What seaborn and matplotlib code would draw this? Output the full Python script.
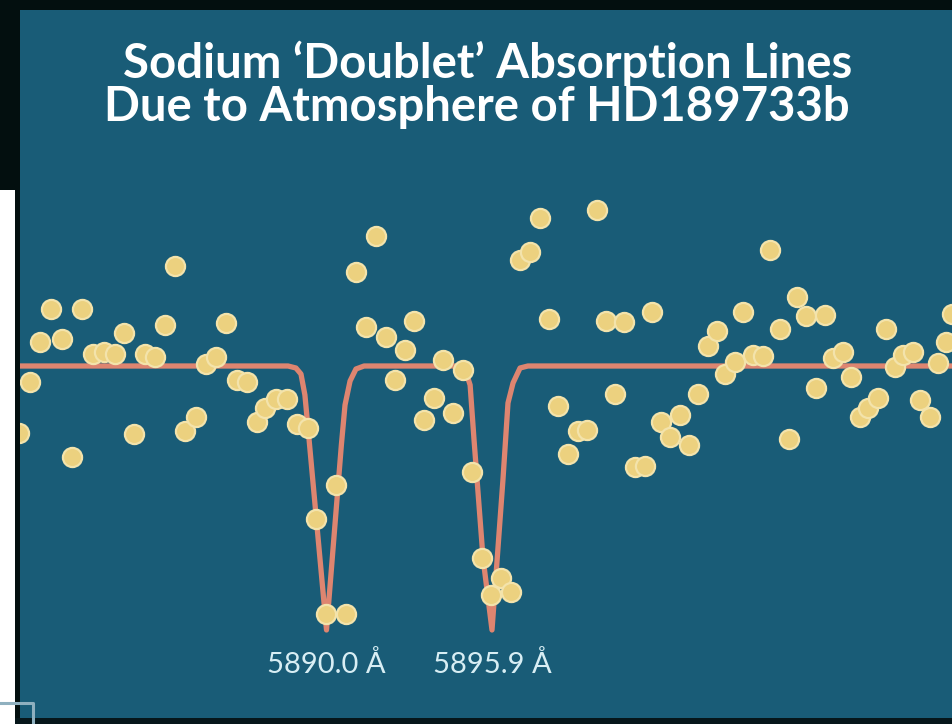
import matplotlib
matplotlib.use("Agg")
import matplotlib.pyplot as plt
from matplotlib.lines import Line2D
from matplotlib.patches import Rectangle
import pandas as pd
import seaborn as sns

# Observed spectrum: wavelength (Angstrom) and relative flux
wavelength = [
    5879.04, 5879.43, 5879.79, 5880.18, 5880.57, 5880.93, 5881.28, 5881.68, 5882.07, 5882.46,
    5882.78, 5883.14, 5883.53, 5883.89, 5884.24, 5884.60, 5884.96, 5885.35, 5885.70, 5886.06,
    5886.42, 5886.81, 5887.17, 5887.52, 5887.81, 5888.20, 5888.59, 5888.95, 5889.34, 5889.63,
    5889.98, 5890.34, 5890.70, 5891.05, 5891.41, 5891.76, 5892.12, 5892.44, 5892.80, 5893.12,
    5893.48, 5893.83, 5894.15, 5894.51, 5894.87, 5895.19, 5895.54, 5895.86, 5896.22, 5896.58,
    5896.90, 5897.26, 5897.61, 5897.93, 5898.25, 5898.61, 5898.97, 5899.29, 5899.64, 5899.96,
    5900.29, 5900.61, 5901.00, 5901.35, 5901.60, 5901.93, 5902.25, 5902.60, 5902.92, 5903.24,
    5903.60, 5903.92, 5904.21, 5904.56, 5904.85, 5905.21, 5905.56, 5905.81, 5906.17, 5906.49,
    5906.77, 5907.09, 5907.45, 5907.77, 5908.06, 5908.41, 5908.70, 5909.02, 5909.31, 5909.66,
    5909.95, 5910.27, 5910.55, 5910.91, 5911.16, 5911.52, 5911.80, 5912.09, 5912.30,
]
flux = [
    0.933, 0.984, 1.024, 1.057, 1.027, 0.909, 1.057, 1.012, 1.014, 1.012,
    1.033, 0.932, 1.012, 1.009, 1.041, 1.100, 0.935, 0.949, 1.002, 1.009,
    1.043, 0.986, 0.984, 0.944, 0.958, 0.967, 0.967, 0.942, 0.938, 0.847,
    0.752, 0.881, 0.752, 1.094, 1.039, 1.130, 1.029, 0.986, 1.016, 1.045,
    0.946, 0.968, 1.006, 0.953, 0.996, 0.894, 0.808, 0.771, 0.788, 0.774,
    1.106, 1.114, 1.148, 1.047, 0.960, 0.912, 0.935, 0.936, 1.156, 1.045,
    0.972, 1.044, 0.899, 0.900, 1.054, 0.944, 0.929, 0.951, 0.921, 0.972,
    1.020, 1.035, 0.992, 1.004, 1.054, 1.011, 1.010, 1.116, 1.037, 0.927,
    1.069, 1.050, 0.978, 1.051, 1.008, 1.014, 0.989, 0.949, 0.958, 0.968,
    1.037, 0.999, 1.011, 1.014, 0.966, 0.949, 1.003, 1.024, 1.052,
]

# Model absorption profile (vertices of the fitted curve)
model_wavelength = [
    5878.50, 5888.63, 5888.91, 5889.09, 5889.23, 5889.38, 5890.00,
    5890.53, 5890.66, 5890.84, 5891.05, 5891.34,
    5894.69, 5894.97, 5895.12, 5895.26, 5895.58, 5895.90,
    5896.29, 5896.47, 5896.65, 5896.90, 5897.18, 5913.00,
]
model_flux = [
    1.000, 1.000, 0.998, 0.992, 0.971, 0.926, 0.736,
    0.921, 0.961, 0.985, 0.997, 1.000,
    1.000, 0.994, 0.981, 0.926, 0.808, 0.736,
    0.886, 0.963, 0.983, 0.998, 1.000, 1.000,
]

line_centers = [5890.0, 5895.9]
line_labels = ["5890.0 Å", "5895.9 Å"]
title_lines = ["Sodium \u2018Doublet\u2019 Absorption Lines",
               "Due to Atmosphere of HD189733b"]

TEAL = "#195c77"
DOT = "#ecd17f"
DOT_EDGE = "#f3e3ab"
CURVE = "#de8570"
LABEL = "#d8eef4"
FONT = ["Lato", "DejaVu Sans"]

W, H = 953, 724
fig = plt.figure(figsize=(W / 100, H / 100), dpi=100, facecolor="white")

# plotting panel
ax = fig.add_axes([20 / W, 6 / H, (W - 20) / W, (718 - 6) / H])
ax.set_facecolor(TEAL)
ax.set_xlim(5879.073, 5912.335)
ax.set_ylim(0.648, 1.360)
ax.set_axis_off()
ax.add_patch(Rectangle((0, 0), 1, 1, transform=ax.transAxes,
                       facecolor=TEAL, edgecolor="none", zorder=0))

model = pd.DataFrame({"wavelength": model_wavelength, "flux": model_flux})
obs = pd.DataFrame({"wavelength": wavelength, "flux": flux})

sns.lineplot(data=model, x="wavelength", y="flux", ax=ax, color=CURVE,
             linewidth=3.8, sort=False, zorder=2,
             solid_joinstyle="round", solid_capstyle="round")
sns.scatterplot(data=obs, x="wavelength", y="flux", ax=ax, color=DOT,
                s=190, edgecolor=DOT_EDGE, linewidth=1.6, zorder=3)
ax.set_axis_off()

for xc, lab in zip(line_centers, line_labels):
    ax.text(xc, 0.693, lab, ha="center", va="baseline", color=LABEL,
            fontsize=21, family=FONT)

# title, two lines
fig.text(488 / W, 1 - 78 / H, title_lines[0], ha="center", va="baseline",
         color="white", fontsize=34, fontweight="bold", family=FONT)
fig.text(477 / W, 1 - 121 / H, title_lines[1], ha="center", va="baseline",
         color="white", fontsize=34, fontweight="bold", family=FONT)

# dark frame around the panel
px = fig.transFigure
def box(x0, y0, w, h, color="black"):
    fig.add_artist(Rectangle((x0 / W, y0 / H), w / W, h / H, transform=px,
                             facecolor=color, edgecolor="none", zorder=5))

box(0, H - 10, W, 10, "#030f0f")
box(15, 0, 5, H, "#030f0f")
box(0, H - 190, 15, 190, "#030f0f")
box(15, 0, W - 15, 6, "#06161a")

# corner bracket
fig.add_artist(Line2D([0, 33 / W, 33 / W], [21 / H, 21 / H, 0], transform=px,
                      color="#8fb0bf", linewidth=2.2, zorder=6))

fig.savefig("out.png", dpi=100, facecolor="white")
